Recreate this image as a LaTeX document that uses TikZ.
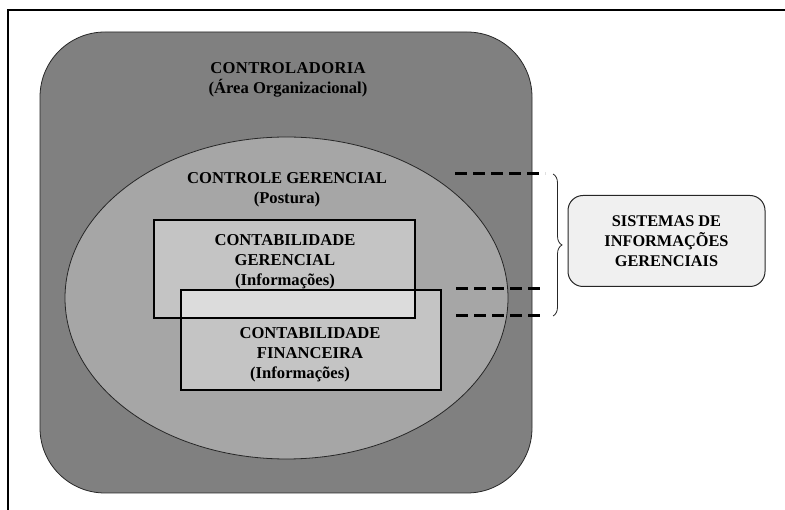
\documentclass[tikz,border=0pt]{standalone}
\usepackage{fontspec}
\setmainfont{Liberation Serif}
\usetikzlibrary{shapes.geometric,decorations.pathreplacing}
\definecolor{outerfill}{HTML}{808080}
\definecolor{midfill}{HTML}{A6A6A6}
\definecolor{boxfill}{HTML}{C4C4C4}
\definecolor{overlapfill}{HTML}{DCDCDC}
\definecolor{sisfill}{HTML}{F0F0F0}
\definecolor{edge}{HTML}{262626}
\tikzset{
  lbl/.style={font=\fontsize{16.6}{20}\selectfont\bfseries, align=center, inner sep=0pt},
  areabox/.style={draw=edge, line width=0.8pt, fill=outerfill, rounded corners=65pt},
  posture/.style={ellipse, draw=edge, line width=0.8pt, fill=midfill, inner sep=0pt},
  infobox/.style={rectangle, fill=boxfill, inner sep=0pt, outer sep=0pt},
  boxline/.style={draw=black, line width=1.1pt},
  sigdash/.style={line width=3pt, dash pattern=on 12pt off 6pt},
  sisbox/.style={draw=edge, line width=1pt, fill=sisfill, rounded corners=15pt,
    font=\fontsize{16.3}{20}\selectfont\bfseries, align=center, inner sep=0pt}
}
\begin{document}
\begin{tikzpicture}[x=1pt,y=-1pt]
\useasboundingbox (0,0) rectangle (785,510);
% page frame
\draw[line width=1.5pt] (8,510) -- (8,10) -- (785,10);

% organisational area
\node[areabox, minimum width=492pt, minimum height=461pt] (ctrl) at (286,262.5) {};
\node[lbl] (ctrlT) at (288,80) {\addfontfeatures{LetterSpace=2}CONTROLADORIA\\(Área Organizacional)};

% management control
\node[posture, minimum width=443pt, minimum height=322pt] (cg) at (286.5,298) {};
\node[lbl] (cgT) at (287,190) {CONTROLE GERENCIAL\\(Postura)};

% accounting boxes
\node[infobox, minimum width=261pt, minimum height=98pt] (cgr) at (284.5,269) {};
\node[infobox, minimum width=260pt, minimum height=100pt] (cf) at (311,340) {};
\fill[overlapfill] (cf.north west) rectangle (cgr.south east);
\draw[boxline] (cgr.north west) rectangle (cgr.south east);
\draw[boxline] (cf.north west) rectangle (cf.south east);
\node[lbl] (cgrT) at (285,261.5) {CONTABILIDADE\\GERENCIAL\\(Informações)};
\node[lbl] (cfT) at (310,355) {CONTABILIDADE\\FINANCEIRA\\\hspace*{-20pt}(Informações)};

% dashed leaders
\coordinate (d1a) at (455,174); \coordinate (d1b) at (545,174);
\coordinate (d2a) at (456,289); \coordinate (d2b) at (545,289);
\coordinate (d3a) at (456,316); \coordinate (d3b) at (545,316);
\draw[sigdash] (d1a) -- (d1b);
\draw[sigdash] (d2a) -- (d2b);
\draw[sigdash] (d3a) -- (d3b);

% brace
\coordinate (br1) at (553,174);
\coordinate (br2) at (553,316);
\draw[edge, line width=0.8pt, decorate, decoration={brace, amplitude=9pt}] (br1) -- (br2);

% information systems
\node[sisbox, minimum width=197pt, minimum height=91pt] (sis) at (666.5,241) {SISTEMAS DE\\INFORMAÇÕES\\GERENCIAIS};
\end{tikzpicture}
\end{document}
